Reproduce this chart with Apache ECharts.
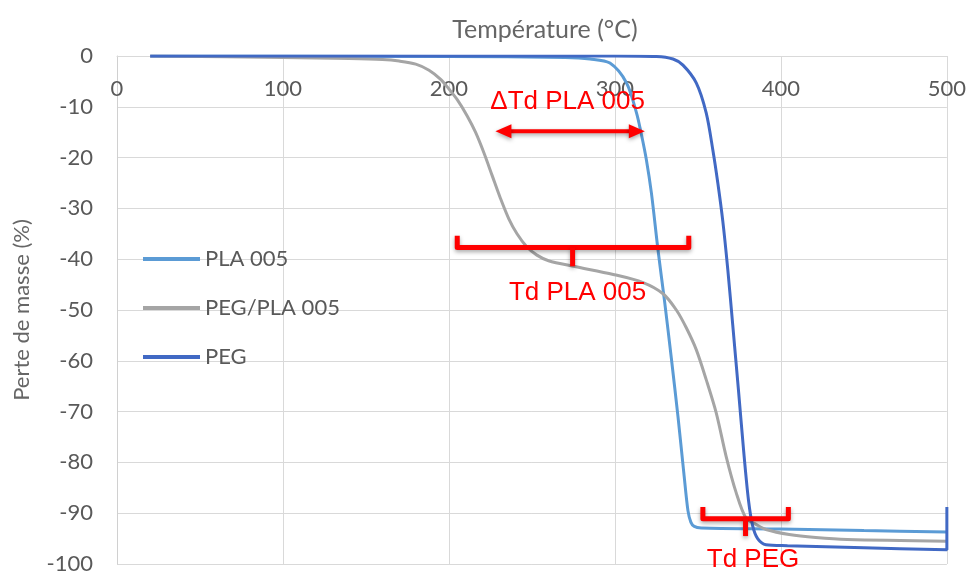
<!DOCTYPE html>
<html>
<head>
<meta charset="utf-8">
<title>Perte de masse</title>
<script src="https://cdn.jsdelivr.net/npm/echarts@6/dist/echarts.min.js"></script>
<style>
  html, body { margin: 0; padding: 0; background: #fff; }
  #main { width: 969px; height: 575px; }
</style>
</head>
<body>
<div id="main"></div>
<script>
// courbes ATG : [température (°C), perte de masse (%)]
var pla005 = [
  [20, 0], [100, 0], [200, -0.1], [270, -0.3], [285, -0.6], [297, -1.4],
  [307, -5.3], [313, -11.2], [316, -15.5], [319, -20.5], [322, -27],
  [326, -38.3], [330, -48.5], [334, -59.5], [338, -71], [341.5, -82],
  [344, -89.5], [345.8, -91.8], [347.8, -92.6], [352, -92.9],
  [400, -93.1], [450, -93.4], [500, -93.7]
];
var pegPla005 = [
  [20, 0], [100, -0.3], [140, -0.5], [160, -0.7], [170, -1.0], [180, -1.6],
  [188, -2.8], [195, -4.6], [200, -6.5], [205, -8.6], [211, -11.8],
  [216, -15], [221, -19], [226, -23.5], [231, -28], [236, -32], [241, -35],
  [247, -37.6], [253, -39.2], [260, -40.3], [275, -41.4], [299, -43],
  [317, -44.6], [329, -46.8], [337, -50], [343, -53.5], [349, -57.8],
  [355, -63.7], [361, -70.2], [367, -78.8], [373, -85.9], [379, -91],
  [385, -92.2], [391, -93.2], [405, -94.2], [421, -94.8], [440, -95.2],
  [500, -95.5]
];
var peg = [
  [20, 0], [200, 0], [300, 0], [325, -0.1], [335, -0.6], [341, -1.8],
  [349, -5.3], [355, -11.2], [359, -18.5], [362, -25], [365, -32.5],
  [368, -42], [371, -53], [374.5, -66], [377.5, -77.5], [380.5, -87.5],
  [383, -92.5], [386, -95], [391, -96.2], [404, -96.4], [450, -96.8],
  [500, -97.2], [500, -88.8]
];
var seriesNames = ['PLA 005', 'PEG/PLA 005', 'PEG'];

// annotations (coordonnées dans l'espace des données)
// [x gauche, x droite, y barre, y bords, x pointe, y pointe]
var annoBrackets = [
  [205, 344.5, -37.7, -35.4, 274.5, -41.4],
  [353, 404.5, -91.1, -88.8, 378.7, -94.5]
];
// [x1, x2, y]
var annoArrows = [
  [228, 318, -14.8]
];
var annoTexts = ['ΔTd PLA 005', 'Td PLA 005', 'Td PEG'];
var annoTextPos = [[271.5, -9.0], [277.5, -46.6], [383.2, -99.2]];

var red = '#ff0000';
var shadow = { shadowBlur: 4, shadowOffsetY: 2, shadowColor: 'rgba(0,0,0,0.35)' };

function renderBracket(params, api) {
  var l = api.coord([api.value(0), api.value(2)]);
  var r = api.coord([api.value(1), api.value(2)]);
  var lip = api.coord([api.value(0), api.value(3)]);
  var tip = api.coord([api.value(4), api.value(5)]);
  var tipTop = api.coord([api.value(4), api.value(2)]);
  var style = Object.assign({ stroke: red, lineWidth: 5, fill: null, lineJoin: 'round', lineCap: 'butt' }, shadow);
  return {
    type: 'group',
    children: [
      { type: 'polyline', shape: { points: [[l[0], lip[1]], l, r, [r[0], lip[1]]] }, style: style },
      { type: 'line', shape: { x1: tipTop[0], y1: tipTop[1], x2: tip[0], y2: tip[1] }, style: style }
    ]
  };
}

function renderArrow(params, api) {
  var a = api.coord([api.value(0), api.value(2)]);
  var b = api.coord([api.value(1), api.value(2)]);
  var hl = 16, hw = 7;
  return {
    type: 'group',
    children: [
      { type: 'line', shape: { x1: a[0] + hl - 2, y1: a[1], x2: b[0] - hl + 2, y2: b[1] },
        style: Object.assign({ stroke: red, lineWidth: 4 }, shadow) },
      { type: 'polygon', shape: { points: [[a[0], a[1]], [a[0] + hl, a[1] - hw], [a[0] + hl, a[1] + hw]] },
        style: Object.assign({ fill: red }, shadow) },
      { type: 'polygon', shape: { points: [[b[0], b[1]], [b[0] - hl, b[1] - hw], [b[0] - hl, b[1] + hw]] },
        style: Object.assign({ fill: red }, shadow) }
    ]
  };
}

function renderText(params, api) {
  var p = api.coord([api.value(0), api.value(1)]);
  return {
    type: 'text',
    x: p[0], y: p[1],
    style: {
      text: annoTexts[params.dataIndex],
      fill: red,
      font: '26px "Liberation Sans", Arial, sans-serif',
      align: 'center',
      verticalAlign: 'middle'
    }
  };
}

var chart = echarts.init(document.getElementById('main'));

var lineBase = { type: 'line', symbol: 'none', smooth: 0.3, z: 3 };
var axisFont = { fontFamily: 'Lato', fontSize: 22, color: '#595959' };

var option = {
  backgroundColor: '#fff',
  animation: false,
  grid: { left: 117, right: 17, top: 56, bottom: 10 },
  legend: {
    data: seriesNames,
    orient: 'vertical',
    left: 138,
    top: 243,
    icon: 'rect',
    itemWidth: 57,
    itemHeight: 4,
    itemGap: 27,
    textStyle: axisFont
  },
  xAxis: {
    type: 'value',
    min: 0, max: 500, interval: 100,
    position: 'top',
    name: 'Température (°C)',
    nameLocation: 'middle',
    nameGap: 14,
    nameTextStyle: { fontFamily: 'Lato', fontSize: 25, color: '#666', padding: [0, 0, 0, 26] },
    axisLine: { show: true, onZero: false, lineStyle: { color: '#d9d9d9', width: 1 } },
    axisTick: { show: false },
    axisLabel: Object.assign({ inside: true, margin: 22 }, axisFont),
    splitLine: { show: true, lineStyle: { color: '#d9d9d9', width: 1 } }
  },
  yAxis: {
    type: 'value',
    min: -100, max: 0, interval: 10,
    name: 'Perte de masse (%)',
    nameLocation: 'middle',
    nameGap: 84,
    nameTextStyle: { fontFamily: 'Lato', fontSize: 22, color: '#666' },
    axisLine: { show: true, lineStyle: { color: '#d0d0d0', width: 1 } },
    axisTick: { show: false },
    axisLabel: Object.assign({ margin: 24 }, axisFont),
    splitLine: { show: true, lineStyle: { color: '#d9d9d9', width: 1 } }
  },
  series: [
    Object.assign({}, lineBase, { name: seriesNames[0], data: pla005, color: '#5B9BD5', lineStyle: { width: 3, color: '#5B9BD5' } }),
    Object.assign({}, lineBase, { name: seriesNames[1], data: pegPla005, color: '#A5A5A5', lineStyle: { width: 3, color: '#A5A5A5' } }),
    Object.assign({}, lineBase, { name: seriesNames[2], data: peg, color: '#4169C4', lineStyle: { width: 3, color: '#4169C4' } }),
    { type: 'custom', renderItem: renderBracket, data: annoBrackets, clip: false, z: 5, silent: true },
    { type: 'custom', renderItem: renderArrow, data: annoArrows, clip: false, z: 5, silent: true },
    { type: 'custom', renderItem: renderText, data: annoTextPos, clip: false, z: 6, silent: true }
  ]
};

chart.setOption(option);
</script>
</body>
</html>
